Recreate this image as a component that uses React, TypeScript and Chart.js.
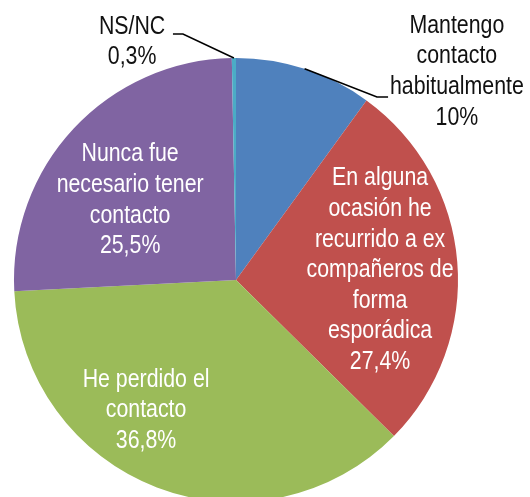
import React, { useEffect, useRef } from 'react';
import { Chart, registerables } from 'chart.js';

Chart.register(...registerables);

const categories = [
  'Mantengo contacto habitualmente',
  'En alguna ocasión he recurrido a ex compañeros de forma esporádica',
  'He perdido el contacto',
  'Nunca fue necesario tener contacto',
  'NS/NC',
];
const values = [10, 27.4, 36.8, 25.5, 0.3];
const valueLabels = ['10%', '27,4%', '36,8%', '25,5%', '0,3%'];
const labelLines = [
  ['Mantengo', 'contacto', 'habitualmente'],
  ['En alguna', 'ocasión he', 'recurrido a ex', 'compañeros de', 'forma', 'esporádica'],
  ['He perdido el', 'contacto'],
  ['Nunca fue', 'necesario tener', 'contacto'],
  ['NS/NC'],
];
const colors = ['#4F81BD', '#C0504D', '#9BBB59', '#8064A2', '#4BACC6'];

// label layout: block centre relative to pie centre, in units of radius
const labelLayout = [
  { dx: 0.995, dy: -0.939, inside: false, leader: [[0.635, -0.824], [0.685, -0.824]] },
  { dx: 0.649, dy: -0.045, inside: true },
  { dx: -0.405, dy: 0.586, inside: true },
  { dx: -0.477, dy: -0.36, inside: true },
  { dx: -0.468, dy: -1.072, inside: false, leader: [[-0.239, -1.108], [-0.284, -1.108]] },
];

const FONT = '26px "Liberation Sans", Arial, sans-serif';
const NARROW = 0.82;
const LINE_H = 30.6;

const labelPlugin = {
  id: 'sliceLabels',
  afterDraw(chart: any) {
    const ctx = chart.ctx;
    const meta = chart.getDatasetMeta(0);
    ctx.save();
    meta.data.forEach((arc: any, i: number) => {
      const { x, y, outerRadius: R, startAngle, endAngle } = arc.getProps(
        ['x', 'y', 'outerRadius', 'startAngle', 'endAngle'],
        true
      );
      const lay = labelLayout[i];
      if (lay.leader) {
        const mid = (startAngle + endAngle) / 2;
        ctx.beginPath();
        ctx.strokeStyle = '#000';
        ctx.lineWidth = 1.6;
        ctx.moveTo(x + Math.cos(mid) * R, y + Math.sin(mid) * R);
        lay.leader.forEach((p: number[]) => ctx.lineTo(x + p[0] * R, y + p[1] * R));
        ctx.stroke();
      }
      const lines = [...labelLines[i], valueLabels[i]];
      const cx = x + lay.dx * R;
      const cy = y + lay.dy * R;
      ctx.font = FONT;
      ctx.textAlign = 'center';
      ctx.textBaseline = 'middle';
      ctx.fillStyle = lay.inside ? '#ffffff' : '#111111';
      const top = cy - ((lines.length - 1) * LINE_H) / 2;
      lines.forEach((t, k) => {
        ctx.save();
        ctx.translate(cx, top + k * LINE_H);
        ctx.scale(NARROW, 1);
        ctx.fillText(t, 0, 0);
        ctx.restore();
      });
    });
    ctx.restore();
  },
};

export default function App() {
  const ref = useRef<HTMLCanvasElement>(null);
  useEffect(() => {
    if (!ref.current) return;
    const chart = new Chart(ref.current, {
      type: 'pie',
      data: {
        labels: categories,
        datasets: [
          {
            data: values,
            backgroundColor: colors,
            borderWidth: 0,
          },
        ],
      },
      options: {
        responsive: false,
        animation: false,
        layout: { padding: { left: 14, right: 72, top: 58, bottom: 58 } },
        plugins: { legend: { display: false }, tooltip: { enabled: false } },
      },
      plugins: [labelPlugin],
    });
    return () => chart.destroy();
  }, []);
  return (
    <div style={{ position: 'fixed', left: 0, top: 0, width: 530, height: 497, overflow: 'hidden', background: '#fff' }}>
      <canvas ref={ref} width={530} height={560} style={{ display: 'block' }} />
    </div>
  );
}
